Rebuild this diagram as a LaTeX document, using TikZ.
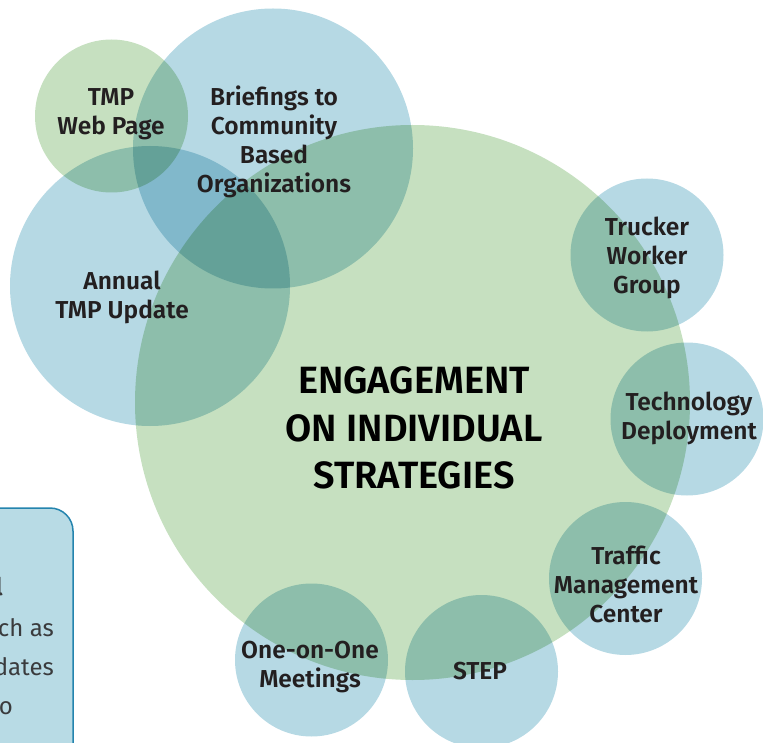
\documentclass[tikz,border=0pt]{standalone}
\usepackage{fontspec}
\setmainfont{Fira Sans}[BoldFont={Fira Sans SemiBold}]
\definecolor{cgreen}{HTML}{C6E0C0}
\definecolor{cblue}{HTML}{B6D9E4}
\definecolor{cbox}{HTML}{B8DBE5}
\definecolor{cboxline}{HTML}{2484AE}
\definecolor{ctext}{HTML}{231F20}
\definecolor{cgray}{HTML}{3A3B3D}
\begin{document}
\begin{tikzpicture}[x=1pt,y=-1pt,
  disc/.style={circle,inner sep=0pt,outer sep=0pt,draw=none,blend mode=multiply},
  gdisc/.style={disc,fill=cgreen},
  bdisc/.style={disc,fill=cblue},
  lbl/.style={align=center,font=\fontsize{24.5}{29}\selectfont\bfseries,text=ctext,inner sep=0pt},
  ttl/.style={align=center,font=\fontsize{38}{47.5}\selectfont\bfseries,text=black,inner sep=0pt},
  boxtxt/.style={font=\fontsize{24}{28}\selectfont,text=cgray,anchor=base east,inner sep=0pt}]
\useasboundingbox (0,0) rectangle (763,743);
\begin{scope}
\clip (0,0) rectangle (763,743);
\node[draw=cboxline,fill=cbox,line width=1.5pt,rounded corners=23pt,
      minimum width=160pt,minimum height=300pt,inner sep=0pt] (box) at (-7,658) {};
\node[gdisc,minimum size=555pt] (main) at (412.5,402.5) {};
\node[gdisc,minimum size=153pt] (web) at (111.5,116) {};
\node[bdisc,minimum size=280pt] (brief) at (273,148.5) {};
\node[bdisc,minimum size=280pt] (annual) at (150,286) {};
\node[bdisc,minimum size=153pt] (truck) at (647,255) {};
\node[bdisc,minimum size=153pt] (tech) at (687,419) {};
\node[bdisc,minimum size=153pt] (tmc) at (625.5,578.5) {};
\node[bdisc,minimum size=153pt] (step) at (481.5,671.5) {};
\node[bdisc,minimum size=153pt] (one) at (311.5,660) {};
\node[boxtxt,font=\fontsize{24}{28}\selectfont\bfseries] (b1) at (3,595) {l};
\node[boxtxt] (b2) at (54,636) {ch as};
\node[boxtxt] (b3) at (54,675) {dates};
\node[boxtxt] (b4) at (13,714) {o};
\end{scope}
\node[ttl] (title) at (414,428) {ENGAGEMENT\\ON INDIVIDUAL\\STRATEGIES};
\node[lbl] (webt) at (111,114) {TMP\\Web Page};
\node[lbl] (brieft) at (274,142) {Briefings to\\Community\\Based\\Organizations};
\node[lbl] (annualt) at (122,297.5) {Annual\\TMP Update};
\node[lbl] (truckt) at (647,258) {Trucker\\Worker\\Group};
\node[lbl] (techt) at (689,418) {Technology\\Deployment};
\node[lbl] (tmct) at (626,584.5) {Traffic\\Management\\Center};
\node[lbl] (stept) at (480,671.5) {STEP};
\node[lbl] (onet) at (310,667) {One-on-One\\Meetings};
\end{tikzpicture}
\end{document}
